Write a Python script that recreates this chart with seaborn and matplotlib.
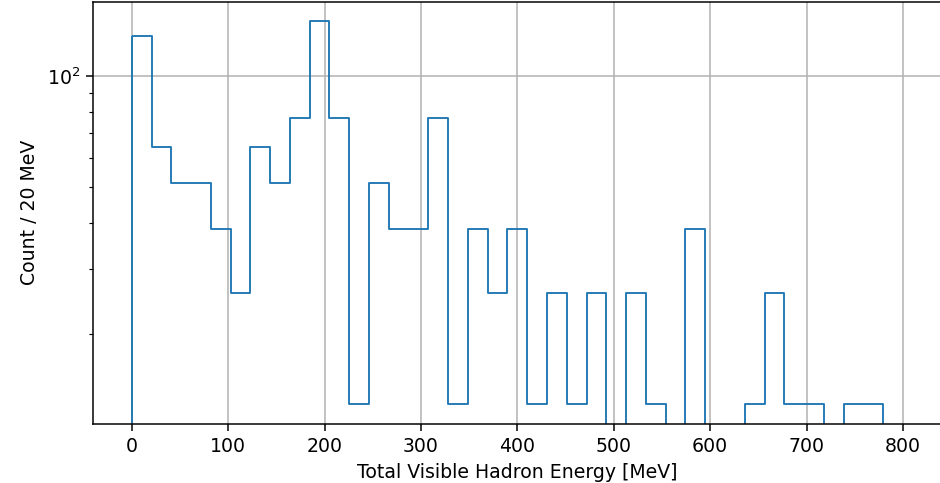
import numpy as np
import pandas as pd
import matplotlib
matplotlib.use("Agg")
import matplotlib.pyplot as plt
import seaborn as sns

# Histogram binning: 39 bins spanning 0-800 MeV
bin_edges = np.linspace(0, 800, 40)

# Events per bin and the per-event weight
event_counts = [10, 5, 4, 4, 3, 2, 5, 4, 6, 11,
                6, 1, 4, 3, 3, 6, 1, 3, 2, 3,
                1, 2, 1, 2, 0, 2, 1, 0, 3, 0,
                0, 1, 2, 1, 1, 0, 1, 1, 0]
event_weight = 12.85

bin_centers = 0.5 * (bin_edges[:-1] + bin_edges[1:])
df = pd.DataFrame({
    "energy": bin_centers,
    "weight": np.asarray(event_counts, dtype=float) * event_weight,
})

line_color = "#1f77b4"

dpi = 136
W, H = 940, 483
fig = plt.figure(figsize=(W / dpi, H / dpi), dpi=dpi)
left, right, top, bottom = 93.2, 941.5, 1.7, 423.5
ax = fig.add_axes([left / W, 1 - bottom / H, (right - left) / W, (bottom - top) / H])

sns.histplot(
    data=df, x="energy", weights="weight", bins=bin_edges.tolist(),
    element="step", fill=True, color=line_color,
    facecolor="none", edgecolor=line_color,
    linewidth=1.0, alpha=1, ax=ax,
)
ax.set_yscale("log")
ax.set_xlim(-40, 840)
ax.grid(True, which="major", color="#b0b0b0", linewidth=0.8)
ax.set_axisbelow(True)
# the right frame edge falls just past the image border
ax.spines["right"].set_visible(False)
ax.set_xlabel("Total Visible Hadron Energy [MeV]")
ax.set_ylabel("Count / 20 MeV")

fig.savefig("out.png", dpi=dpi)
